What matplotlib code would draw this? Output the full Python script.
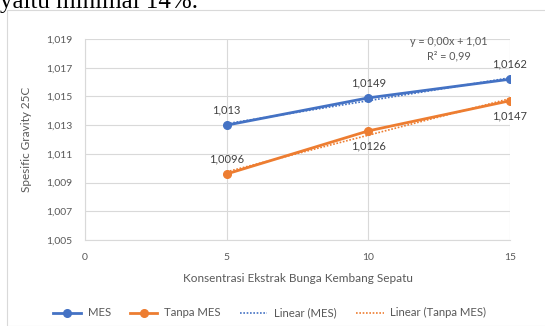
import numpy as np
import matplotlib
matplotlib.use('Agg')
import matplotlib.pyplot as plt
from matplotlib.ticker import FuncFormatter
from matplotlib.patches import Rectangle

konsentrasi = [5, 10, 15]
mes = [1.013, 1.0149, 1.0162]
tanpa_mes = [1.0096, 1.0126, 1.0147]
mes_labels = ['1,013', '1,0149', '1,0162']
tanpa_labels = ['1,0096', '1,0126', '1,0147']
# where each label of the orange series sits: above or below the point
tanpa_pos = ['above', 'below', 'below']
x_ticks = [0, 5, 10, 15]
y_ticks = [1.005, 1.007, 1.009, 1.011, 1.013, 1.015, 1.017, 1.019]

blue = '#4472C4'
orange = '#ED7D31'
grey = '#595959'

plt.rcParams['font.family'] = ['Lato', 'DejaVu Sans']

fig = plt.figure(figsize=(5.45, 3.26), dpi=100)

# document text cut off above the chart
fig.text(0.0, 1.0 - 8 / 326, 'yaitu minimal 14%.', family='Liberation Serif',
         fontsize=18, color='black', va='baseline')
# chart frame
fig.patches.append(Rectangle((7 / 545, 0), 1.0, 1 - 10 / 326, transform=fig.transFigure,
                             fill=False, edgecolor='#D9D9D9', linewidth=0.8))

ax = fig.add_axes([85 / 545, 1 - 240 / 326, 425 / 545, 201 / 326])

x = np.array(konsentrasi)
fit_mes = np.polyfit(x, mes, 1)
fit_tanpa = np.polyfit(x, tanpa_mes, 1)

ax.plot(x, mes, color=blue, lw=2, marker='o', ms=5.5, label='MES', zorder=3)
ax.plot(x, tanpa_mes, color=orange, lw=2, marker='o', ms=5.5, label='Tanpa MES', zorder=3)
ax.plot(x, np.polyval(fit_mes, x), color=blue, lw=1.2, ls=(0, (1, 1)), label='Linear (MES)', zorder=4)
ax.plot(x, np.polyval(fit_tanpa, x), color=orange, lw=1.2, ls=(0, (1, 1)), label='Linear (Tanpa MES)', zorder=4)

for xi, yi, t in zip(konsentrasi, mes, mes_labels):
    ax.annotate(t, (xi, yi), xytext=(0, 7), textcoords='offset points', ha='center',
                va='bottom', fontsize=8, color='#404040')
for xi, yi, t, p in zip(konsentrasi, tanpa_mes, tanpa_labels, tanpa_pos):
    off = 7 if p == 'above' else -7
    ax.annotate(t, (xi, yi), xytext=(0, off), textcoords='offset points', ha='center',
                va='bottom' if p == 'above' else 'top', fontsize=8, color='#404040')

ax.text(12.85, 1.01834, 'y = 0,00x + 1,01\nR² = 0,99', ha='center', va='center',
        fontsize=7.8, color=grey, linespacing=1.35)

ax.set_xlim(0, 15)
ax.set_ylim(1.005, 1.019)
ax.set_xticks(x_ticks)
ax.set_yticks(y_ticks)
ax.xaxis.set_major_formatter(FuncFormatter(lambda v, p: '%d' % v))
ax.yaxis.set_major_formatter(FuncFormatter(lambda v, p: ('%.3f' % v).replace('.', ',')))
ax.grid(True, color='#D9D9D9', lw=0.8)
ax.set_axisbelow(True)
for s in ['top', 'right']:
    ax.spines[s].set_visible(False)
ax.spines['left'].set_color('#D9D9D9')
ax.spines['bottom'].set_color('#D9D9D9')
ax.tick_params(length=0, labelsize=7.5, labelcolor=grey, pad=9)

ax.set_xlabel('Konsentrasi Ekstrak Bunga Kembang Sepatu', fontsize=8.5, color=grey, labelpad=8)
ax.set_ylabel('Spesific Gravity 25C', fontsize=8.5, color=grey, labelpad=10)

ax.legend(loc='center', bbox_to_anchor=(0.435, -0.363), ncol=4, frameon=False,
          fontsize=8.2, labelcolor=grey, handlelength=2.4, columnspacing=1.7,
          handletextpad=0.6)

plt.savefig('out.png', dpi=100)
